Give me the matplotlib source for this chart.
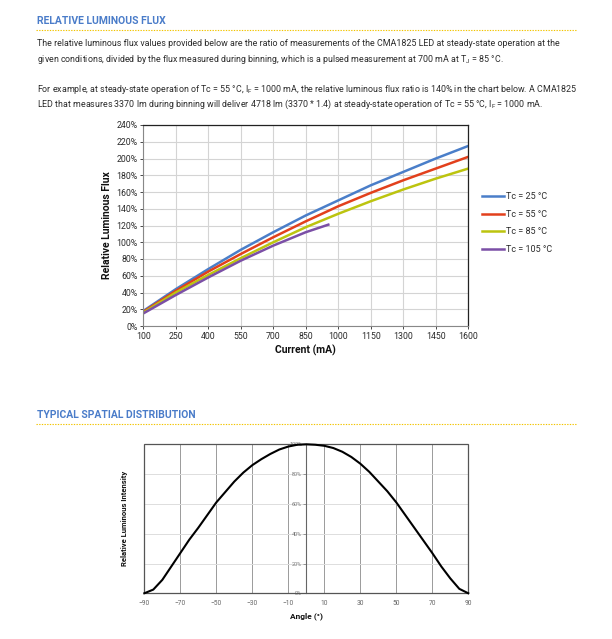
import matplotlib
matplotlib.use("Agg")
import matplotlib.pyplot as plt
from matplotlib.lines import Line2D
from matplotlib.patches import Rectangle
from matplotlib.ticker import FuncFormatter

plt.rcParams['font.family'] = ['Roboto', 'DejaVu Sans']
plt.rcParams['mathtext.fontset'] = 'custom'
plt.rcParams['mathtext.rm'] = 'Roboto'

# relative luminous flux vs current
current = [100, 250, 400, 550, 700, 850, 1000, 1150, 1300, 1450, 1600]
flux_25 = [18, 44, 68, 91, 112, 132, 150, 168, 184, 200, 215]
flux_55 = [17, 42, 65, 86, 106, 125, 143, 159, 174, 188, 202]
flux_85 = [16, 40, 61, 81, 100, 118, 134, 149, 163, 176, 188]
current_105 = [100, 250, 400, 550, 700, 850, 954]
flux_105 = [15, 37, 58, 78, 96, 112, 121]
series_labels = ['Tc = 25 °C', 'Tc = 55 °C', 'Tc = 85 °C', 'Tc = 105 °C']
series_colors = ['#4a7ec9', '#e2401c', '#bcc40f', '#7b4fa6']

# spatial distribution
angle = [-90, -85, -80, -75, -70, -65, -60, -55, -50, -45, -40, -35, -30, -25, -20,
         -15, -10, -5, 0, 5, 10, 15, 20, 25, 30, 35, 40, 45, 50, 55, 60, 65, 70,
         75, 80, 85, 90]
intensity = [0, 2.5, 9, 18, 27, 36, 44, 52.5, 61, 68, 75, 81, 86, 90, 93.5,
             96.5, 98.5, 99.7, 100, 99.7, 99, 97.5, 95, 91.5, 87, 81.5, 75, 68.5, 61,
             52.5, 44, 35.5, 27, 18, 10, 3, 0]

W, H = 612, 639
fig = plt.figure(figsize=(W / 100, H / 100), dpi=100)


def fx(x):
    return x / W


def fy(y):
    return 1 - y / H


heading_color = '#4a7cc9'
text_color = '#2b2b2b'


def heading(y, txt, yline):
    fig.text(fx(37), fy(y), txt, fontsize=7.5, fontweight='bold', color=heading_color,
             va='center', ha='left')
    fig.add_artist(Line2D([fx(36), fx(577)], [fy(yline), fy(yline)], color='#f2c400',
                          lw=0.8, linestyle=(0, (1.2, 1.2))))


heading(21, 'RELATIVE LUMINOUS FLUX', 29.5)
para = [
    (44, 'The relative luminous flux values provided below are the ratio of measurements of the CMA1825 LED at steady-state operation at the'),
    (60, r'given conditions, divided by the flux measured during binning, which is a pulsed measurement at 700 mA at T$_\mathregular{J}$ = 85 °C.'),
    (89, r'For example, at steady-state operation of Tc = 55 °C, I$_\mathregular{F}$ = 1000 mA, the relative luminous flux ratio is 140% in the chart below. A CMA1825'),
    (104, r'LED that measures 3370 lm during binning will deliver 4718 lm (3370 * 1.4) at steady-state operation of Tc = 55 °C, I$_\mathregular{F}$ = 1000 mA.'),
]
for y, t in para:
    fig.text(fx(37), fy(y), t, fontsize=6.4, color=text_color, va='center', ha='left')

# ---- top chart ----
ax = fig.add_axes([fx(143.3), fy(326), fx(468.3 - 143.3), (326 - 125) / H])
ax.plot(current, flux_25, color=series_colors[0], lw=1.8, label=series_labels[0])
ax.plot(current, flux_55, color=series_colors[1], lw=1.8, label=series_labels[1])
ax.plot(current, flux_85, color=series_colors[2], lw=1.8, label=series_labels[2])
ax.plot(current_105, flux_105, color=series_colors[3], lw=1.8, label=series_labels[3])
ax.set_xlim(100, 1600)
ax.set_ylim(0, 240)
ax.set_xticks(range(100, 1601, 150))
ax.set_yticks(range(0, 241, 20))
ax.yaxis.set_major_formatter(FuncFormatter(lambda v, p: f'{int(v)}%'))
ax.grid(True, color='#d4d4d4', lw=0.8)
ax.set_axisbelow(True)
ax.tick_params(labelsize=6.3, colors=text_color, length=2, width=0.6, pad=2)
for s in ['top', 'right']:
    ax.spines[s].set_color('#222222')
    ax.spines[s].set_linewidth(0.9)
for s in ['left', 'bottom']:
    ax.spines[s].set_color('#888888')
    ax.spines[s].set_linewidth(0.8)
ax.set_xlabel('Current (mA)', fontsize=7.5, fontweight='bold', color='#111111', labelpad=3)
ax.set_ylabel('Relative Luminous Flux', fontsize=7.5, fontweight='bold', color='#111111', labelpad=3)
ax.legend(loc='center left', bbox_to_anchor=(fx(474), fy(223)), bbox_transform=fig.transFigure,
          frameon=False, fontsize=6.5, handlelength=2.4, handletextpad=0.3, labelspacing=0.95,
          labelcolor=text_color)

heading(415, 'TYPICAL SPATIAL DISTRIBUTION', 424)

# ---- bottom chart ----
bx = fig.add_axes([fx(144.3), fy(593.3), fx(468.3 - 144.3), (593.3 - 444.3) / H])
bx.plot(angle, intensity, color='#000000', lw=1.5, clip_on=False, zorder=5,
        solid_joinstyle='round')
bx.set_xlim(-90, 90)
bx.set_ylim(0, 100)
bx.set_xticks(range(-90, 91, 20))
bx.set_yticks(range(0, 101, 20))
bx.yaxis.set_major_formatter(FuncFormatter(lambda v, p: f'{int(v)}%'))
bx.grid(False)
for v in range(-70, 71, 20):
    bx.axvline(v, color='#9a9a9a', lw=0.7, zorder=1)
for v in range(20, 100, 20):
    bx.axhline(v, color='#dddddd', lw=0.7, zorder=1)
for s in ['top', 'right', 'bottom']:
    bx.spines[s].set_visible(False)
bx.spines['left'].set_position(('data', 0))
bx.spines['left'].set_color('#666666')
bx.spines['left'].set_linewidth(0.8)
bx.add_patch(Rectangle((0, 0), 1, 1, transform=bx.transAxes, fill=False,
                       edgecolor='#555555', lw=0.9, zorder=4, clip_on=False))
bx.tick_params(axis='y', labelsize=4, colors='#777777', length=2, width=0.5, pad=1)
bx.tick_params(axis='x', labelsize=4.8, colors='#666666', length=0, pad=5)
bx.set_xlabel('Angle (°)', fontsize=6, fontweight='bold', color='#111111', labelpad=4)
bx.set_ylabel('Relative Luminous Intensity', fontsize=5.5, fontweight='bold', color='#111111')
bx.yaxis.set_label_coords(-0.05, 0.5)

fig.savefig('out.png', dpi=100)
